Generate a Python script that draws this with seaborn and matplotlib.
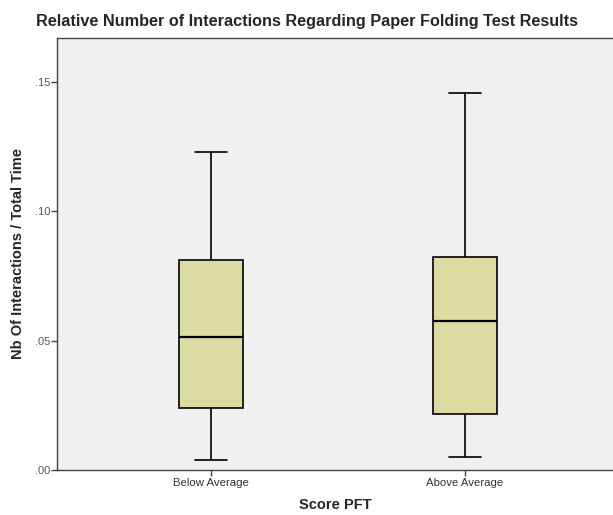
import matplotlib
matplotlib.use("Agg")
import matplotlib.pyplot as plt
import seaborn as sns
import pandas as pd

# Five-number summaries per group (min, Q1, median, Q3, max)
groups = ["Below Average", "Above Average"]
below_average = [0.0039, 0.0240, 0.0514, 0.0812, 0.1230]
above_average = [0.0051, 0.0217, 0.0577, 0.0824, 0.1459]
y_ticks = [0.00, 0.05, 0.10, 0.15]
y_tick_labels = [".00", ".05", ".10", ".15"]

df = pd.DataFrame({
    "Score PFT": [groups[0]] * len(below_average) + [groups[1]] * len(above_average),
    "ratio": below_average + above_average,
})

sns.set_style("white")
plt.rcParams["font.family"] = ["Liberation Sans", "DejaVu Sans"]

fig = plt.figure(figsize=(6.13, 5.15), dpi=100)
fig.patch.set_facecolor("white")
ax = fig.add_axes([0.093, 0.0874, 0.907, 0.8388])
ax.set_facecolor("#f0f0f0")

sns.boxplot(
    data=df, x="Score PFT", y="ratio", order=groups, ax=ax,
    whis=(0, 100), width=0.25, color="#dcdba2", saturation=1,
    linewidth=1.2, linecolor="black",
    medianprops={"color": "black", "linewidth": 1.6},
)
for patch in ax.patches:
    patch.set_facecolor("#dcdba2")
    patch.set_edgecolor("black")

ax.set_xlim(-0.606, 1.583)
ax.set_ylim(0, 0.167)
ax.set_yticks(y_ticks)
ax.set_yticklabels(y_tick_labels)

for side in ["left", "bottom", "top"]:
    ax.spines[side].set_color("#444444")
    ax.spines[side].set_linewidth(1.0)
ax.spines["right"].set_visible(False)

ax.tick_params(axis="y", direction="out", length=4, width=1, color="#444444",
               labelsize=8, labelcolor="#555555", pad=1, left=True)
ax.tick_params(axis="x", direction="out", length=4, width=1, color="#444444",
               labelsize=8.2, labelcolor="#333333", pad=2, bottom=True)

ax.set_xlabel("Score PFT", fontsize=10.5, fontweight="bold", labelpad=7)
ax.set_ylabel("Nb Of Interactions / Total Time", fontsize=10.5, fontweight="bold", labelpad=7)
fig.text(0.5, 0.958, "Relative Number of Interactions Regarding Paper Folding Test Results",
         ha="center", va="center", fontsize=11.7, fontweight="bold")

fig.savefig("out.png", dpi=100, facecolor="white")
